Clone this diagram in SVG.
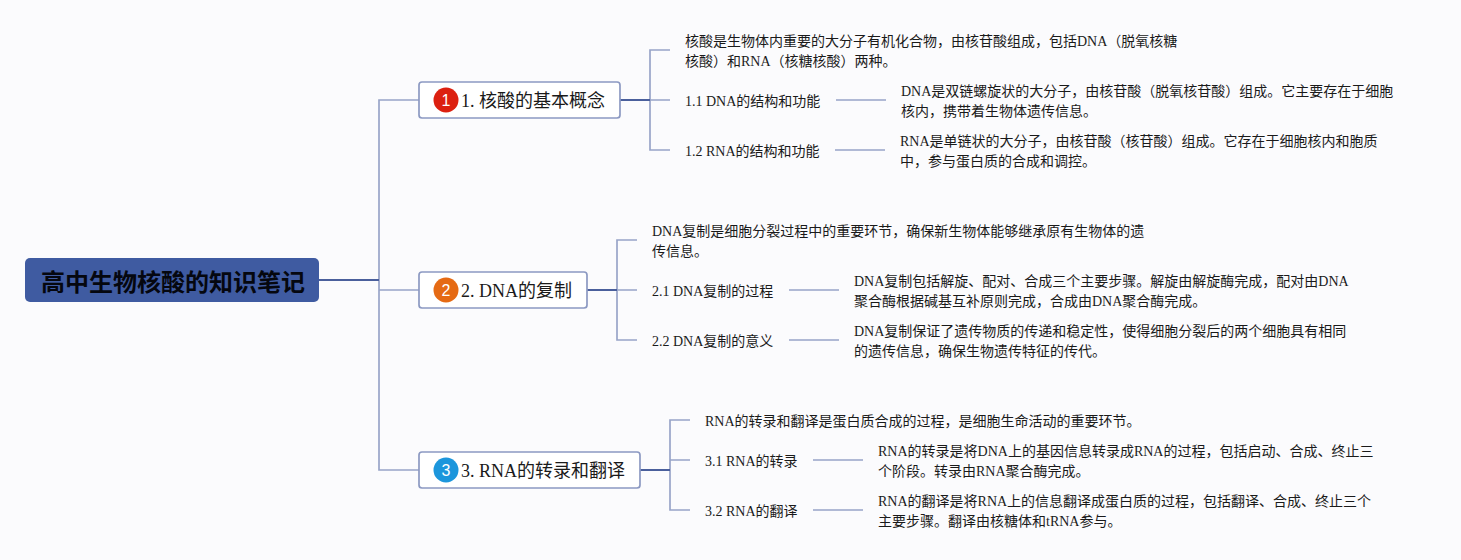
<svg xmlns="http://www.w3.org/2000/svg" width="1461" height="560" viewBox="0 0 1461 560">
<style>
text{font-family:"Liberation Serif","Noto Sans CJK SC",serif;fill:#1a1a1a}
.t{font-size:14px}
.b{font-size:18px}
.c{fill:none;stroke:#98a4c8;stroke-width:1.7}
.d{fill:none;stroke:#4a5f9c;stroke-width:2}
.box{fill:#fff;stroke:#8c99c2;stroke-width:1.7}
.n{font-family:"Liberation Sans","Noto Sans",sans-serif;font-size:16px;fill:#fff;text-anchor:middle}
</style>
<rect width="1461" height="560" fill="#fbfbfd"/>
<g id="connectors">
<path class="c" d="M419 100H379V470H419M379 290H419"/>
<path class="d" d="M319 280H379"/>
<path class="c" d="M670 50H650V150H670M650 100H670M836 100H886M835 150H885"/>
<path class="d" d="M620 100H650"/>
<path class="c" d="M637 240H617V340H637M617 290H637M789 290H839M789 340H839"/>
<path class="d" d="M587 290H617"/>
<path class="c" d="M690 420H670V510H690M670 460H690M813 460H863M813 510H863"/>
<path class="d" d="M640 470H670"/>
</g>
<g id="root"><rect x="25" y="258" width="294" height="44" rx="5" fill="#3f5ba1"/><text x="41" y="291" font-size="24" font-weight="700" style="font-family:'Noto Sans CJK SC',sans-serif;fill:#05070f">高中生物核酸的知识笔记</text></g>
<g id="n1"><rect class="box" x="419" y="82" width="201" height="36" rx="3"/><circle cx="446" cy="100" r="12.5" fill="#dc2010"/><text class="n" x="446" y="106">1</text><text class="b" x="461" y="107">1. 核酸的基本概念</text></g>
<g id="n2"><rect class="box" x="419" y="272" width="168" height="36" rx="3"/><circle cx="446" cy="290" r="12.5" fill="#e56a14"/><text class="n" x="446" y="296">2</text><text class="b" x="461" y="297">2. DNA的复制</text></g>
<g id="n3"><rect class="box" x="419" y="452" width="221" height="36" rx="3"/><circle cx="446" cy="470" r="12.5" fill="#1c96dc"/><text class="n" x="446" y="476">3</text><text class="b" x="461" y="477">3. RNA的转录和翻译</text></g>
<g id="n1-0"><text class="t" x="685" y="46">核酸是生物体内重要的大分子有机化合物，由核苷酸组成，包括DNA（脱氧核糖</text><text class="t" x="685" y="66">核酸）和RNA（核糖核酸）两种。</text></g>
<g id="n1-1"><text class="t" x="685" y="106">1.1 DNA的结构和功能</text></g>
<g id="n1-1-d"><text class="t" x="901" y="96">DNA是双链螺旋状的大分子，由核苷酸（脱氧核苷酸）组成。它主要存在于细胞</text><text class="t" x="901" y="116">核内，携带着生物体遗传信息。</text></g>
<g id="n1-2"><text class="t" x="685" y="156">1.2 RNA的结构和功能</text></g>
<g id="n1-2-d"><text class="t" x="900" y="146">RNA是单链状的大分子，由核苷酸（核苷酸）组成。它存在于细胞核内和胞质</text><text class="t" x="900" y="166">中，参与蛋白质的合成和调控。</text></g>
<g id="n2-0"><text class="t" x="652" y="236">DNA复制是细胞分裂过程中的重要环节，确保新生物体能够继承原有生物体的遗</text><text class="t" x="652" y="256">传信息。</text></g>
<g id="n2-1"><text class="t" x="652" y="296">2.1 DNA复制的过程</text></g>
<g id="n2-1-d"><text class="t" x="854" y="286">DNA复制包括解旋、配对、合成三个主要步骤。解旋由解旋酶完成，配对由DNA</text><text class="t" x="854" y="306">聚合酶根据碱基互补原则完成，合成由DNA聚合酶完成。</text></g>
<g id="n2-2"><text class="t" x="652" y="346">2.2 DNA复制的意义</text></g>
<g id="n2-2-d"><text class="t" x="854" y="336">DNA复制保证了遗传物质的传递和稳定性，使得细胞分裂后的两个细胞具有相同</text><text class="t" x="854" y="356">的遗传信息，确保生物遗传特征的传代。</text></g>
<g id="n3-0"><text class="t" x="705" y="426">RNA的转录和翻译是蛋白质合成的过程，是细胞生命活动的重要环节。</text></g>
<g id="n3-1"><text class="t" x="705" y="466">3.1 RNA的转录</text></g>
<g id="n3-1-d"><text class="t" x="878" y="456">RNA的转录是将DNA上的基因信息转录成RNA的过程，包括启动、合成、终止三</text><text class="t" x="878" y="476">个阶段。转录由RNA聚合酶完成。</text></g>
<g id="n3-2"><text class="t" x="705" y="516">3.2 RNA的翻译</text></g>
<g id="n3-2-d"><text class="t" x="878" y="506">RNA的翻译是将RNA上的信息翻译成蛋白质的过程，包括翻译、合成、终止三个</text><text class="t" x="878" y="526">主要步骤。翻译由核糖体和tRNA参与。</text></g>
</svg>
